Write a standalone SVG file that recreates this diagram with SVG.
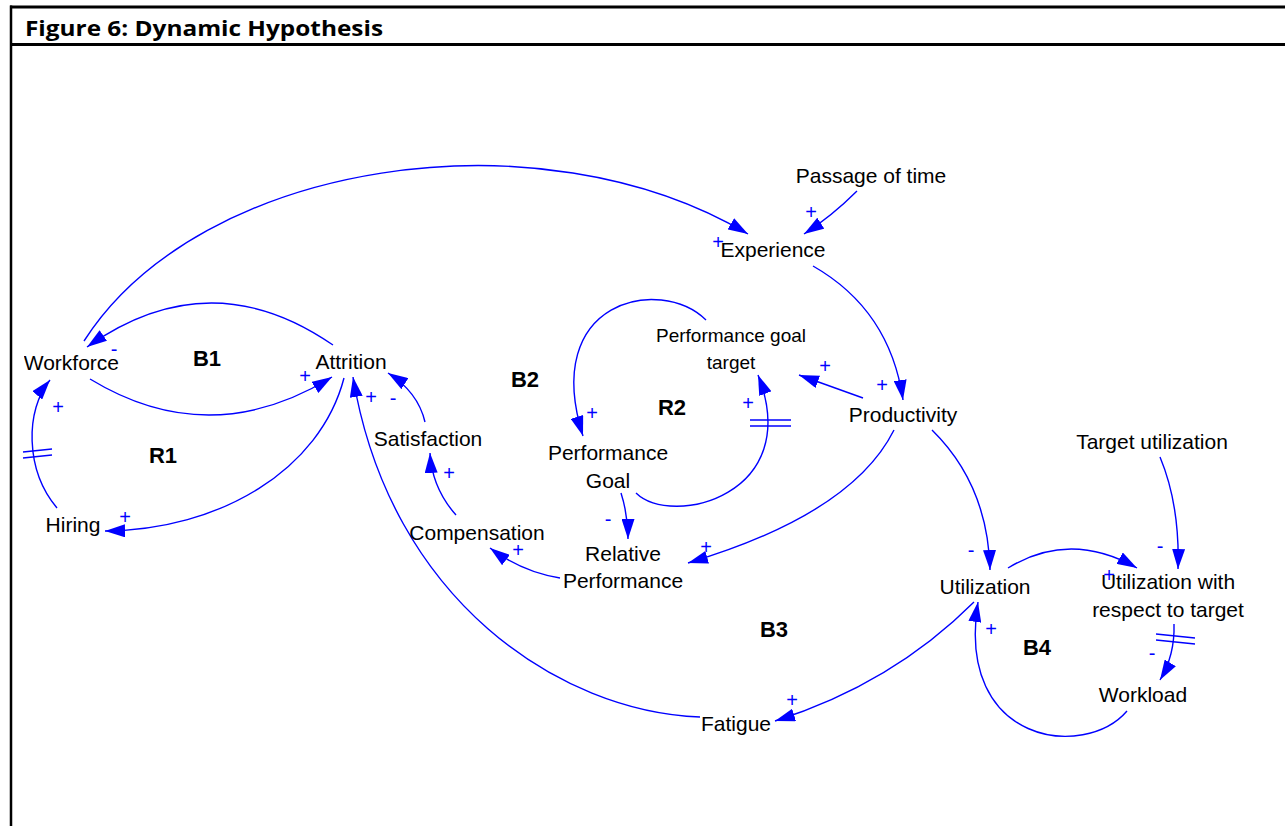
<svg xmlns="http://www.w3.org/2000/svg" width="1285" height="826" viewBox="0 0 1285 826">
<style>
.n{font-family:"Liberation Sans",Arial,sans-serif;font-size:21px;fill:#000;text-anchor:middle}
.s{font-size:19px}
.lp{font-family:"Liberation Sans",Arial,sans-serif;font-size:22px;font-weight:bold;fill:#000;text-anchor:middle}
.c{fill:none;stroke:#0000FF;stroke-width:1.4;marker-end:url(#ah)}
.d{fill:none;stroke:#0000FF;stroke-width:1.4}
.p{font-family:"Liberation Sans",Arial,sans-serif;font-size:20px;fill:#0000FF;text-anchor:middle}
.fr{stroke:#000;fill:none}
</style>
<defs>
<marker id="ah" viewBox="0 0 20 13" refX="20" refY="6.5" markerWidth="20" markerHeight="13" markerUnits="userSpaceOnUse" orient="auto">
<path d="M0,0 L20,6.5 L0,13 z" fill="#0000FF"/>
</marker>
<clipPath id="clipL"><rect x="24" y="0" width="1261" height="826"/></clipPath>
</defs>
<rect x="0" y="0" width="1285" height="826" fill="#fff"/>
<g id="frame">
<line class="fr" x1="10" y1="7" x2="1285" y2="7" stroke-width="3"/>
<line class="fr" x1="10" y1="44.5" x2="1285" y2="44.5" stroke-width="3"/>
<line class="fr" x1="11" y1="5.5" x2="11" y2="826" stroke-width="2.5"/>
<text x="25" y="36" font-family="'Open Sans','Liberation Sans',sans-serif" font-weight="bold" font-size="22" fill="#000" textLength="358" lengthAdjust="spacingAndGlyphs">Figure 6: Dynamic Hypothesis</text>
</g>
<g id="links">
<path class="c" d="M84,341 C200,160 540,110 748,234"/>
<path class="c" d="M857,191 Q832,216 804,234"/>
<path class="c" d="M813,266 Q890,310 903,400"/>
<path class="c" d="M863,398 L799,375"/>
<path class="c" d="M894,430 Q852,514 688,563"/>
<path class="c" d="M932,430 Q988,485 990,570"/>
<path class="c" d="M1160,457 Q1180,505 1178,569"/>
<path class="c" d="M1008,568 Q1070,530 1137,568"/>
<path class="c" d="M1174,624 Q1175,655 1160,680"/>
<line class="d" x1="1156" y1="634" x2="1195" y2="638"/>
<line class="d" x1="1156" y1="640" x2="1195" y2="644"/>
<path class="c" d="M1127,711 C1085,760 955,745 978,602"/>
<path class="c" d="M974,602 Q892,684 775,721"/>
<path class="c" d="M700,717 C560,712 390,600 353,377"/>
<path class="c" d="M344,378 C320,470 220,530 105,531"/>
<path class="c" d="M90,379 Q210,452 332,377"/>
<path class="c" d="M333,345 Q210,260 87,347"/>
<path class="c" d="M57,508 C25,470 25,410 50,380"/>
<line class="d" x1="23" y1="452" x2="52" y2="449"/>
<line class="d" x1="23" y1="458" x2="52" y2="455"/>
<path class="c" d="M425,422 Q418,392 388,373"/>
<path class="c" d="M456,515 Q432,488 430,453"/>
<path class="c" d="M560,578 Q522,572 490,548"/>
<path class="c" d="M621,493 Q628,515 628,539"/>
<path class="c" d="M636,493 C672,528 805,495 758,375"/>
<line class="d" x1="750" y1="420" x2="791" y2="420"/>
<line class="d" x1="750" y1="426" x2="791" y2="426"/>
<path class="c" d="M706,320 C660,275 540,300 583,436"/>
</g>
<g id="polarities">
<text class="p" x="718" y="249">+</text>
<text class="p" x="811" y="219">+</text>
<text class="p" x="882" y="392">+</text>
<text class="p" x="825" y="373">+</text>
<text class="p" x="114" y="356">-</text>
<text class="p" x="305" y="383">+</text>
<text class="p" x="58" y="414">+</text>
<text class="p" x="125" y="524">+</text>
<text class="p" x="371" y="404">+</text>
<text class="p" x="393" y="405">-</text>
<text class="p" x="449" y="480">+</text>
<text class="p" x="518" y="557">+</text>
<text class="p" x="592" y="420">+</text>
<text class="p" x="748" y="410">+</text>
<text class="p" x="608" y="526">-</text>
<text class="p" x="706" y="554">+</text>
<text class="p" x="971" y="557">-</text>
<text class="p" x="1160" y="553">-</text>
<text class="p" x="1109" y="582">+</text>
<text class="p" x="1152" y="660">-</text>
<text class="p" x="991" y="636">+</text>
<text class="p" x="792" y="707">+</text>
</g>
<g id="loops">
<text class="lp" x="207" y="366">B1</text>
<text class="lp" x="163" y="463">R1</text>
<text class="lp" x="525" y="387">B2</text>
<text class="lp" x="672" y="415">R2</text>
<text class="lp" x="774" y="637">B3</text>
<text class="lp" x="1037" y="655">B4</text>
</g>
<g id="n-workforce" clip-path="url(#clipL)"><text class="n" x="119" y="370" style="text-anchor:end">Workforce</text></g>
<g id="n-attrition"><text class="n" x="351" y="369">Attrition</text></g>
<g id="n-hiring"><text class="n" x="73" y="532">Hiring</text></g>
<g id="n-satisfaction"><text class="n" x="428" y="446">Satisfaction</text></g>
<g id="n-compensation"><text class="n" x="477" y="540">Compensation</text></g>
<g id="n-relperf"><text class="n" x="623" y="561">Relative</text><text class="n" x="623" y="588">Performance</text></g>
<g id="n-perfgoal"><text class="n" x="608" y="460">Performance</text><text class="n" x="608" y="488">Goal</text></g>
<g id="n-pgtarget"><text class="n s" x="731" y="342">Performance goal</text><text class="n s" x="731" y="369">target</text></g>
<g id="n-experience"><text class="n" x="773" y="257">Experience</text></g>
<g id="n-passage"><text class="n" x="871" y="183">Passage of time</text></g>
<g id="n-productivity"><text class="n" x="903" y="422">Productivity</text></g>
<g id="n-targetutil"><text class="n" x="1152" y="449">Target utilization</text></g>
<g id="n-utilization"><text class="n" x="985" y="594">Utilization</text></g>
<g id="n-uwrt"><text class="n" x="1168" y="589">Utilization with</text><text class="n" x="1168" y="617">respect to target</text></g>
<g id="n-workload"><text class="n" x="1143" y="702">Workload</text></g>
<g id="n-fatigue"><text class="n" x="736" y="731">Fatigue</text></g>
</svg>
